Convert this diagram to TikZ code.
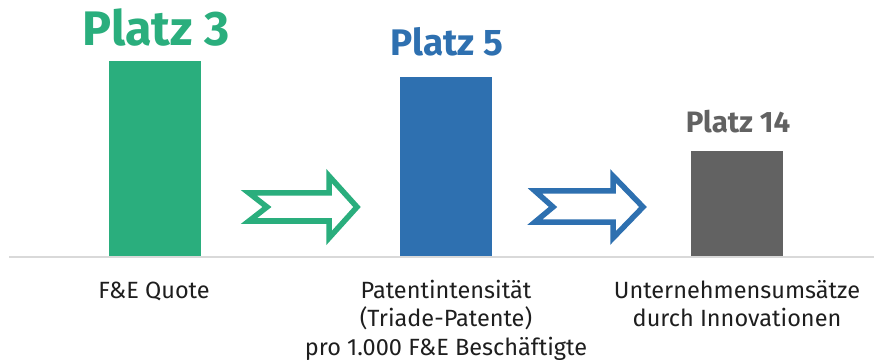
\documentclass[tikz,border=0pt]{standalone}
\usepackage{fontspec}
\setmainfont{Fira Sans}
\definecolor{cgreen}{RGB}{42,174,125}
\definecolor{cblue}{RGB}{46,112,176}
\definecolor{cgray}{RGB}{98,98,98}
\definecolor{caxis}{RGB}{217,217,217}
\definecolor{ctext}{RGB}{30,30,30}
\begin{document}
\begin{tikzpicture}[x=1pt,y=-1pt,
  lbl/.style={align=center,font=\fontsize{23.5}{28.5}\selectfont,text=ctext,anchor=base,inner sep=0pt},
  ttl/.style={anchor=base,inner sep=0pt},
  arr/.style={line width=5.5pt,fill=white,line join=miter}]
\useasboundingbox (0,0) rectangle (874,363);
% bars
\fill[cgreen] (109,61) rectangle (201,256);
\fill[cblue] (400,77) rectangle (492,256);
\fill[cgray] (691,151) rectangle (783,256);
% axis
\draw[caxis,line width=2pt] (9,256.5) -- (874,256.5);
% titles
\node[ttl,text=cgreen,font=\fontsize{48.5}{48.5}\selectfont\bfseries] (t1) at (156,46) {Platz 3};
\node[ttl,text=cblue,font=\fontsize{37}{37}\selectfont\bfseries] (t2) at (447,56) {Platz 5};
\node[ttl,text=cgray,font=\fontsize{29.5}{29.5}\selectfont\bfseries] (t3) at (738,133) {Platz 14};
% labels
\node[lbl] (l1) at (154,298) {F\&E Quote};
\node[lbl] (l2) at (446,298) {Patentintensität};
\node[lbl] (l2b) at (446,326.5) {(Triade-Patente)};
\node[lbl] (l2c) at (446,355) {pro 1.000 F\&E Beschäftigte};
\node[lbl] (l3) at (737,298) {Unternehmensumsätze};
\node[lbl] (l3b) at (737,326.5) {durch Innovationen};
% arrows
\draw[arr,draw=cgreen] (249,193) -- (329,193) -- (329,176) -- (357,207) -- (329,238) -- (329,221) -- (249,221) -- (267,207) -- cycle;
\draw[arr,draw=cblue] (535,191) -- (613,191) -- (613,176) -- (643,207) -- (613,238) -- (613,222) -- (535,222) -- (553,207) -- cycle;
\end{tikzpicture}
\end{document}
